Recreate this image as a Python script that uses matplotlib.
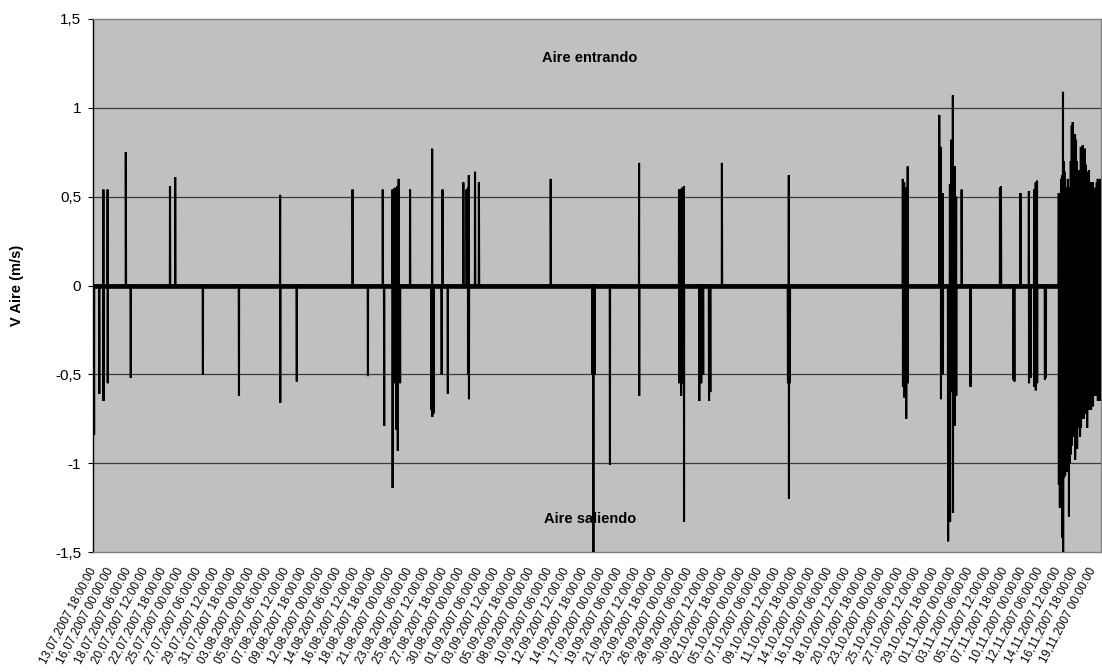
import matplotlib
matplotlib.use("Agg")
import matplotlib.pyplot as plt

plt.rcParams['font.family'] = ['Liberation Sans', 'DejaVu Sans']

# Tick labels (one every 54 hours, first at 13.07.2007 18:00)
tick_labels = [
    "13,07,2007 18:00:00", "16,07,2007 00:00:00", "18,07,2007 06:00:00", "20,07,2007 12:00:00",
    "22,07,2007 18:00:00", "25,07,2007 00:00:00", "27,07,2007 06:00:00", "29,07,2007 12:00:00",
    "31,07,2007 18:00:00", "03,08,2007 00:00:00", "05,08,2007 06:00:00", "07,08,2007 12:00:00",
    "09,08,2007 18:00:00", "12,08,2007 00:00:00", "14,08,2007 06:00:00", "16,08,2007 12:00:00",
    "18,08,2007 18:00:00", "21,08,2007 00:00:00", "23,08,2007 06:00:00", "25,08,2007 12:00:00",
    "27,08,2007 18:00:00", "30,08,2007 00:00:00", "01,09,2007 06:00:00", "03,09,2007 12:00:00",
    "05,09,2007 18:00:00", "08,09,2007 00:00:00", "10,09,2007 06:00:00", "12,09,2007 12:00:00",
    "14,09,2007 18:00:00", "17,09,2007 00:00:00", "19,09,2007 06:00:00", "21,09,2007 12:00:00",
    "23,09,2007 18:00:00", "26,09,2007 00:00:00", "28,09,2007 06:00:00", "30,09,2007 12:00:00",
    "02,10,2007 18:00:00", "05,10,2007 00:00:00", "07,10,2007 06:00:00", "09,10,2007 12:00:00",
    "11,10,2007 18:00:00", "14,10,2007 00:00:00", "16,10,2007 06:00:00", "18,10,2007 12:00:00",
    "20,10,2007 18:00:00", "23,10,2007 00:00:00", "25,10,2007 06:00:00", "27,10,2007 12:00:00",
    "29,10,2007 18:00:00", "01,11,2007 00:00:00", "03,11,2007 06:00:00", "05,11,2007 12:00:00",
    "07,11,2007 18:00:00", "10,11,2007 00:00:00", "12,11,2007 06:00:00", "14,11,2007 12:00:00",
    "16,11,2007 18:00:00", "19,11,2007 00:00:00",
]
tick_hours = [54 * i for i in range(len(tick_labels))]

# Events (hours since 13.07.2007 18:00): positive peak and negative peak (0 = none)
event_hours = [
    3, 19, 32, 45, 101, 116, 237, 253, 338, 449,
    576, 627, 799, 846, 892, 896, 922, 926, 929, 933, 936, 938, 941, 945, 976,
    1041, 1044, 1048,
    1073, 1076, 1092, 1140, 1150, 1154, 1157, 1176, 1188, 1409, 1537, 1540, 1544,
    1591, 1681, 1804, 1810, 1813, 1819, 1866, 1872, 1878, 1896, 1900, 1936,
    2139, 2142, 2145, 2493, 2497, 2503, 2508, 2605, 2610, 2616,
    2632, 2638, 2642, 2647, 2653, 2657, 2674, 2701, 2792, 2795, 2833, 2836, 2855,
    2881, 2886, 2897, 2902, 2906, 2930, 2933,
    2973, 2976, 2980, 2983, 2986, 2989, 2992, 2995, 2998, 3001, 3004, 3007, 3010, 3013,
    3016, 3020, 3023, 3026, 3029, 3032, 3035, 3038, 3041, 3044, 3047, 3050, 3053, 3056,
    3060, 3063, 3066, 3069, 3072, 3075, 3078, 3081, 3084, 3087, 3090, 3093, 3096, 3100,
]
event_up = [
    0, 0, 0.54, 0.54, 0.75, 0, 0.56, 0.61, 0, 0,
    0.51, 0, 0.54, 0, 0.54, 0, 0.54, 0, 0.55, 0, 0.56, 0, 0.60, 0, 0.54,
    0, 0.77, 0,
    0, 0.54, 0, 0.58, 0.54, 0.55, 0.62, 0.64, 0.58, 0.60, 0, 0, 0,
    0, 0.69, 0.54, 0.54, 0.55, 0.56, 0, 0, 0, 0, 0, 0.69,
    0, 0.62, 0, 0.60, 0.58, 0.55, 0.67, 0.96, 0.78, 0.52,
    0, 0.57, 0.82, 1.07, 0.67, 0.50, 0.54, 0, 0.55, 0.56, 0, 0, 0.52,
    0.53, 0, 0.54, 0.58, 0.59, 0, 0,
    0.52, 0.50, 0.60, 0.62, 1.09, 0.70, 0.64, 0.50, 0.55, 0.60, 0.52, 0.55, 0.70, 0.90,
    0.92, 0.75, 0.85, 0.82, 0.70, 0.60, 0.65, 0.55, 0.78, 0.72, 0.79, 0.75, 0.77, 0.68,
    0.64, 0.60, 0.65, 0.55, 0.58, 0.55, 0.58, 0.54, 0.55, 0.50, 0.58, 0.60, 0.57, 0.60,
]
event_down = [
    -0.84, -0.61, -0.65, -0.55, 0, -0.52, 0, 0, -0.50, -0.62,
    -0.66, -0.54, 0, -0.51, 0, -0.79, -1.14, -0.53, -0.55, -0.81, -0.53, -0.93, -0.53, -0.55, 0,
    -0.70, -0.74, -0.72,
    -0.50, 0, -0.61, 0, 0, -0.50, -0.64, 0, 0, 0, -0.50, -1.52, -0.50,
    -1.01, -0.62, -0.55, -0.62, -0.55, -1.33, -0.65, -0.55, -0.50, -0.65, -0.60, 0,
    -0.55, -1.20, -0.55, -0.57, -0.63, -0.75, -0.55, 0, -0.64, -0.50,
    -1.44, -1.33, -0.60, -1.28, -0.79, -0.62, 0, -0.57, 0, 0, -0.53, -0.54, 0,
    -0.55, -0.52, -0.57, -0.59, -0.55, -0.53, -0.52,
    -1.12, -1.25, -1.20, -1.42, -1.52, -1.08, -1.07, -1.00, -1.05, -1.05, -1.30, -1.00, -0.95, -0.90,
    -0.82, -0.85, -0.98, -0.85, -0.92, -0.80, -0.78, -0.85, -0.80, -0.75, -0.72, -0.75, -0.70, -0.72,
    -0.80, -0.68, -0.70, -0.66, -0.70, -0.62, -0.68, -0.60, -0.62, -0.58, -0.62, -0.65, -0.60, -0.65,
]

# Build the line series: zero baseline with excursions at each event
xs, ys = [0.0], [0.0]
for h, up, dn in zip(event_hours, event_up, event_down):
    xs.append(h - 0.4); ys.append(0.0)
    if up:
        xs.append(h); ys.append(up)
    if dn:
        xs.append(h + 0.4); ys.append(dn)
    xs.append(h + 0.8); ys.append(0.0)
xs.append(3103); ys.append(0.0)

fig = plt.figure(figsize=(11.02, 6.72), dpi=100)
ax = fig.add_axes([93 / 1102, 1 - 552 / 672, 1008 / 1102, 533 / 672])
ax.set_facecolor('#C0C0C0')

ax.set_xlim(0, 3103)
ax.set_ylim(-1.5, 1.5)
yt = [1.5, 1, 0.5, 0, -0.5, -1, -1.5]
ax.set_yticks(yt)
ax.set_yticklabels(['1,5', '1', '0,5', '0', '-0,5', '-1', '-1,5'], fontsize=11)
ax.tick_params(axis='y', direction='out', length=3.6, width=0.8, pad=5.0, colors='black')

for v in [1, 0.5, -0.5, -1]:
    ax.axhline(v, color='#3a3a3a', lw=0.9, zorder=1)

ax.set_xticks(tick_hours)
ax.set_xticklabels(tick_labels, rotation=62, ha='right', va='center',
                   rotation_mode='anchor', fontsize=8.4)
ax.tick_params(axis='x', length=0, pad=12)

for s in ['top', 'bottom', 'right']:
    ax.spines[s].set_color('#808080')
    ax.spines[s].set_linewidth(1.0)
ax.spines['left'].set_color('black')
ax.spines['left'].set_linewidth(1.0)

ax.text(0.493, 0.927, 'Aire entrando', transform=ax.transAxes, ha='center', va='center',
        fontsize=10.5, fontweight='bold', zorder=2)
ax.text(0.493, 0.062, 'Aire saliendo', transform=ax.transAxes, ha='center', va='center',
        fontsize=10.5, fontweight='bold', zorder=2)

ax.plot(xs, ys, color='black', lw=1.5, zorder=3, solid_joinstyle='miter')
ax.axhline(0, color='black', lw=3.3, zorder=3)

ax.set_ylabel('V Aire (m/s)', fontsize=10.5, fontweight='bold')
ax.yaxis.set_label_coords(-0.068, 0.5)

fig.savefig('out.png', dpi=100)
